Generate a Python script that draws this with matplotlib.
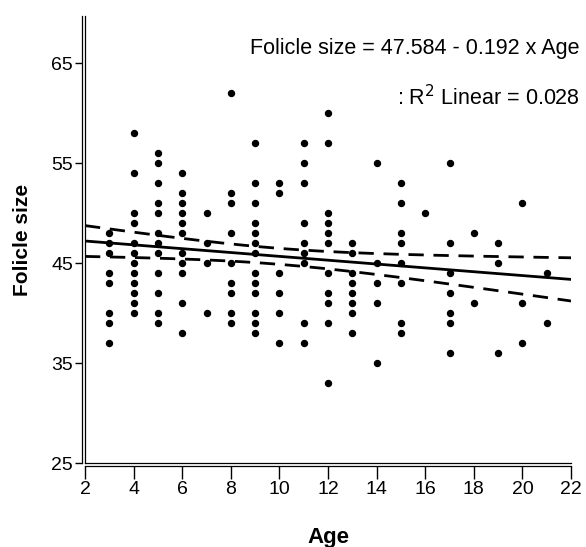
import numpy as np
import matplotlib
matplotlib.use("Agg")
import matplotlib.pyplot as plt

plt.rcParams['font.family'] = ['Liberation Sans', 'DejaVu Sans']

# Data: folicle size values by age (as visible; many points overlap)
data = {
    3: [48, 47, 46, 44, 43, 40, 39, 37],
    4: [58, 54, 50, 49, 47, 46, 45, 44, 43, 42, 41, 40],
    5: [56, 55, 53, 51, 50, 48, 47, 46, 44, 42, 40, 39],
    6: [54, 52, 51, 50, 49, 48, 46, 45, 44, 41, 38],
    7: [50, 47, 45, 40],
    8: [62, 52, 51, 48, 45, 43, 42, 40, 39],
    9: [57, 53, 51, 49, 48, 47, 46, 44, 43, 42, 40, 39, 38],
    10: [53, 52, 44, 42, 40, 37],
    11: [57, 55, 53, 49, 47, 46, 45, 39, 37],
    12: [60, 57, 50, 49, 48, 47, 44, 42, 41, 39, 33],
    13: [47, 46, 44, 43, 42, 41, 40, 38],
    14: [55, 45, 43, 41, 35],
    15: [53, 51, 48, 47, 45, 43, 39, 38],
    16: [50],
    17: [55, 47, 44, 42, 40, 39, 36],
    18: [48, 41],
    19: [47, 45, 36],
    20: [51, 41, 37],
    21: [44, 39],
}
ages = np.array([a for a, vs in data.items() for _ in vs], dtype=float)
sizes = np.array([v for vs in data.values() for v in vs], dtype=float)

# Fit reported on the chart
intercept = 47.584
slope = -0.192
eq_text = "Folicle size = 47.584 - 0.192 x Age"
r2_text = ": R$^2$ Linear = 0.028"
# estimated total observations (integer values overlap, so many points are hidden)
n_total = 200

xticks = [2, 4, 6, 8, 10, 12, 14, 16, 18, 20, 22]
yticks = [25, 35, 45, 55, 65]

W, H = 586, 547
fig = plt.figure(figsize=(W / 100, H / 100), dpi=100)
x0, x1 = 85, 571
y0, y1 = 463, 16
ax = fig.add_axes([x0 / W, 1 - y0 / H, (x1 - x0) / W, (y0 - y1) / H])
ax.set_xlim(2, 22)
ax.set_ylim(25, 69.7)

# scatter
ax.plot(ages, sizes, 'o', color='black', markersize=4.3, linestyle='none', zorder=3)

# regression line & 95% CI for the mean
n_vis = len(ages)
xm = ages.mean()
var_x = np.sum((ages - xm) ** 2) / n_vis
resid = sizes - (intercept + slope * ages)
s = np.sqrt(np.sum(resid ** 2) / (n_vis - 2))
xs = np.linspace(2, 22, 200)
yfit = intercept + slope * xs
se = s * np.sqrt(1 / n_total + (xs - xm) ** 2 / (n_total * var_x))
t = 1.972
ax.plot(xs, yfit, color='black', lw=2, zorder=4)
ax.plot(xs, yfit + t * se, color='black', lw=2, dashes=(5.5, 3.5), zorder=4)
ax.plot(xs, yfit - t * se, color='black', lw=2, dashes=(5.5, 3.5), zorder=4)

# spines (SPSS-like double lines)
for sp in ['top', 'right']:
    ax.spines[sp].set_visible(False)
ax.spines['left'].set_position(('outward', 2.5))
ax.spines['bottom'].set_position(('outward', 2))
ax.spines['left'].set_linewidth(0.9)
ax.spines['bottom'].set_linewidth(0.9)
ax.plot([0, 0], [0, 1], transform=ax.transAxes, color='black', lw=0.9, clip_on=False)
ax.plot([0, 1], [0, 0], transform=ax.transAxes, color='black', lw=0.9, clip_on=False)

ax.set_xticks(xticks)
ax.set_yticks(yticks)
ax.tick_params(axis='x', direction='out', length=9, width=1, labelsize=14, pad=2)
ax.tick_params(axis='y', direction='out', length=5, width=1, labelsize=14, pad=1)

ax.set_xlabel("Age", fontsize=16, fontweight='bold', labelpad=21)
ax.set_ylabel("Folicle size", fontsize=15, fontweight='bold', labelpad=14)

fig.text(580 / W, 1 - 54 / H, eq_text, ha='right', va='baseline', fontsize=15.5)
fig.text(580 / W, 1 - 105 / H, r2_text, ha='right', va='baseline', fontsize=15.5)

fig.savefig("out.png", dpi=100)
